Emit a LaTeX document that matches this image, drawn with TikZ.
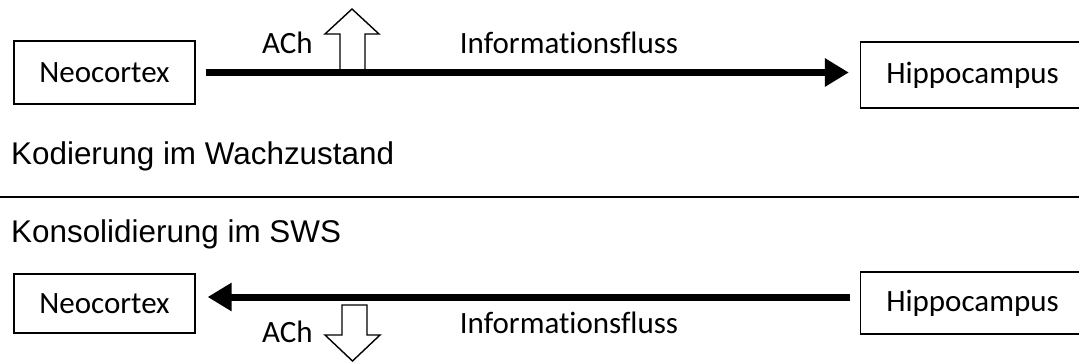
\documentclass[tikz,border=0pt]{standalone}
\usepackage{fontspec}
\setmainfont[Ligatures=NoCommon,RawFeature={-liga;-dlig}]{Carlito}
\newfontfamily\arialfont{Liberation Sans}
\usetikzlibrary{arrows.meta}
\begin{document}
\begin{tikzpicture}[x=1pt,y=-1pt,
  boxnode/.style={draw=black, line width=1.3pt, inner sep=0pt, font=\fontsize{31}{37}\selectfont},
  lbl/.style={inner sep=0pt, anchor=base, font=\fontsize{31}{37}\selectfont},
  heading/.style={inner sep=0pt, anchor=base west, font=\arialfont\fontsize{31.4}{37}\selectfont},
  flow/.style={line width=7pt, -{Triangle[length=24pt,width=27pt]}},
  hollow/.style={draw=black, fill=white, line width=1.4pt, line join=miter}]
\useasboundingbox (0,0) rectangle (1079,362);
\clip (0,0) rectangle (1079,362);
% top row
\node[boxnode, minimum width=181pt, minimum height=63pt] (neoA) at (104.5,72.5) {Neocortex};
\node[boxnode, minimum width=224pt, minimum height=66pt] (hipA) at (972.5,75) {Hippocampus};
\draw[hollow] (340,69) -- (340,34) -- (325,34) -- (352,9) -- (379,34) -- (365,34) -- (365,69);
\draw[flow, shorten <=10pt, shorten >=11pt] (neoA.east) -- (neoA.east -| hipA.west);
\node[lbl] (achA) at (287.5,53) {ACh};
\node[lbl] (flowA) at (569,53) {Informat\kern0pt ionsfluss};
\node[heading] (kod) at (11,164) {Kodierung im Wachzustand};
% separator
\coordinate (sepL) at (0,197);
\coordinate (sepR) at (1079,197);
\draw[line width=1.5pt] (sepL) -- (sepR);
% bottom row
\node[heading] (kons) at (11,242.5) {Konsolidierung im SWS};
\node[boxnode, minimum width=181pt, minimum height=59pt] (neoB) at (104.5,303.5) {Neocortex};
\node[boxnode, minimum width=224pt, minimum height=62pt] (hipB) at (972.5,303) {Hippocampus};
\coordinate (flowBstart) at (850,297);
\draw[flow, shorten >=12pt] (flowBstart) -- (flowBstart -| neoB.east);
\draw[hollow] (342,305) -- (367,305) -- (367,335) -- (380,335) -- (352.5,361) -- (325,335) -- (342,335) -- cycle;
\node[lbl] (achB) at (287.5,342) {ACh};
\node[lbl] (flowB) at (569,333) {Informat\kern0pt ionsfluss};
\end{tikzpicture}
\end{document}
